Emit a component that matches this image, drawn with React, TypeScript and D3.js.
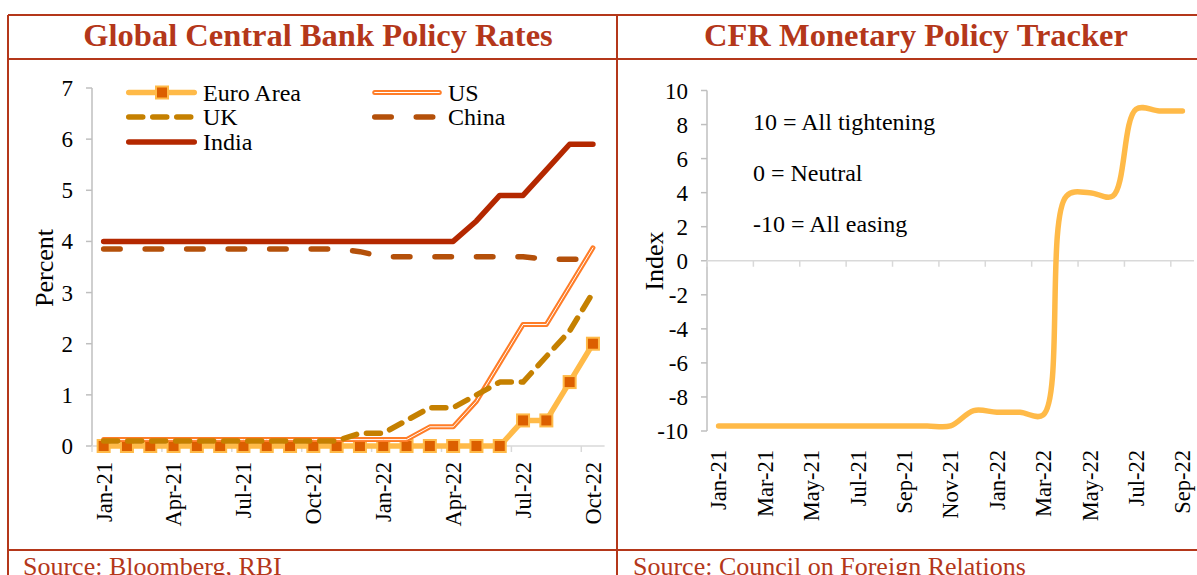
import { curveCatmullRom, line, scaleBand, scaleLinear } from 'd3'

const leftMonths = [
  'Jan-21', 'Feb-21', 'Mar-21', 'Apr-21', 'May-21', 'Jun-21', 'Jul-21', 'Aug-21',
  'Sep-21', 'Oct-21', 'Nov-21', 'Dec-21', 'Jan-22', 'Feb-22', 'Mar-22', 'Apr-22',
  'May-22', 'Jun-22', 'Jul-22', 'Aug-22', 'Sep-22', 'Oct-22',
]
const leftTickLabels = ['Jan-21', 'Apr-21', 'Jul-21', 'Oct-21', 'Jan-22', 'Apr-22', 'Jul-22', 'Oct-22']
const leftYTicks = [0, 1, 2, 3, 4, 5, 6, 7]

const euroArea = [0, 0, 0, 0, 0, 0, 0, 0, 0, 0, 0, 0, 0, 0, 0, 0, 0, 0, 0.5, 0.5, 1.25, 2.0]
const us = [
  0.125, 0.125, 0.125, 0.125, 0.125, 0.125, 0.125, 0.125, 0.125, 0.125, 0.125, 0.125,
  0.125, 0.125, 0.375, 0.375, 0.875, 1.625, 2.375, 2.375, 3.125, 3.875,
]
const uk = [
  0.1, 0.1, 0.1, 0.1, 0.1, 0.1, 0.1, 0.1, 0.1, 0.1, 0.1, 0.25,
  0.25, 0.5, 0.75, 0.75, 1.0, 1.25, 1.25, 1.75, 2.25, 3.0,
]
const china = [
  3.85, 3.85, 3.85, 3.85, 3.85, 3.85, 3.85, 3.85, 3.85, 3.85, 3.85, 3.8,
  3.7, 3.7, 3.7, 3.7, 3.7, 3.7, 3.7, 3.65, 3.65, 3.65,
]
const india = [
  4.0, 4.0, 4.0, 4.0, 4.0, 4.0, 4.0, 4.0, 4.0, 4.0, 4.0, 4.0,
  4.0, 4.0, 4.0, 4.0, 4.4, 4.9, 4.9, 5.4, 5.9, 5.9,
]

const rightMonths = [
  'Jan-21', 'Feb-21', 'Mar-21', 'Apr-21', 'May-21', 'Jun-21', 'Jul-21', 'Aug-21',
  'Sep-21', 'Oct-21', 'Nov-21', 'Dec-21', 'Jan-22', 'Feb-22', 'Mar-22', 'Apr-22',
  'May-22', 'Jun-22', 'Jul-22', 'Aug-22', 'Sep-22',
]
const rightTickLabels = [
  'Jan-21', 'Mar-21', 'May-21', 'Jul-21', 'Sep-21', 'Nov-21',
  'Jan-22', 'Mar-22', 'May-22', 'Jul-22', 'Sep-22',
]
const rightYTicks = [-10, -8, -6, -4, -2, 0, 2, 4, 6, 8, 10]
const trackerIndex = [
  -9.7, -9.7, -9.7, -9.7, -9.7, -9.7, -9.7, -9.7, -9.7, -9.7, -9.7,
  -8.8, -8.9, -8.9, -9.05, 3.8, 4.0, 3.8, 8.9, 8.8, 8.8,
]
const trackerNotes = ['10 = All tightening', '0 = Neutral', '-10 = All easing']

const red = '#B4371A'
const font = "'Liberation Serif', 'Times New Roman', serif"
const axisGray = '#BFBFBF'
const gridGray = '#D9D9D9'

const colors = {
  euro: '#FFBA48',
  euroMarker: '#DC5F00',
  us: '#FF7D28',
  uk: '#C58000',
  china: '#B4500A',
  india: '#B42800',
  tracker: '#FFBA48',
}

function PolicyRates() {
  const x = scaleBand().domain(leftMonths).range([92, 604.6])
  const y = scaleLinear().domain([0, 7]).range([446, 88])
  const cx = (i: number) => (x(leftMonths[i]) ?? 0) + x.bandwidth() / 2

  const rateLine = line<number>()
    .x((_, i) => cx(i))
    .y((v) => y(v))

  const lineStyle = {
    fill: 'none',
    strokeWidth: 5.5,
    strokeLinecap: 'round' as const,
    strokeLinejoin: 'round' as const,
  }

  return (
    <g>
      {leftYTicks.map((t) => (
        <g key={`ly-${t}`}>
          <line x1={86} x2={92} y1={y(t)} y2={y(t)} stroke={axisGray} strokeWidth={1.5} />
          <text x={73} y={y(t)} dy="0.35em" textAnchor="end" fontSize={23}>
            {t}
          </text>
        </g>
      ))}
      <line x1={92} x2={92} y1={y(7)} y2={y(0)} stroke={axisGray} strokeWidth={1.5} />
      <line x1={92} x2={604.6} y1={y(0)} y2={y(0)} stroke={gridGray} strokeWidth={1.5} />

      {leftTickLabels.map((m) => {
        const left = x(m) ?? 0
        const mid = left + x.bandwidth() / 2
        return (
          <g key={`lx-${m}`}>
            <line x1={left} x2={left} y1={y(0)} y2={y(0) + 6} stroke={gridGray} strokeWidth={1.5} />
            <text
              transform={`translate(${mid}, 462) rotate(-90)`}
              dy="0.35em"
              textAnchor="end"
              fontSize={22.5}
            >
              {m}
            </text>
          </g>
        )
      })}

      <text transform="translate(53, 268) rotate(-90)" textAnchor="middle" fontSize={26}>
        Percent
      </text>

      <path d={rateLine(euroArea) ?? ''} stroke={colors.euro} {...lineStyle} />
      {euroArea.map((v, i) => (
        <rect
          key={`eu-${i}`}
          x={cx(i) - 6}
          y={y(v) - 6}
          width={12}
          height={12}
          fill={colors.euroMarker}
          stroke={colors.euro}
          strokeWidth={2}
        />
      ))}
      <path d={rateLine(us) ?? ''} stroke={colors.us} {...lineStyle} strokeWidth={5} />
      <path d={rateLine(us) ?? ''} stroke="#FFFFFF" {...lineStyle} strokeWidth={1} />
      <path d={rateLine(uk) ?? ''} stroke={colors.uk} {...lineStyle} strokeDasharray="14 10" />
      <path d={rateLine(china) ?? ''} stroke={colors.china} {...lineStyle} strokeDasharray="16.5 25" />
      <path d={rateLine(india) ?? ''} stroke={colors.india} {...lineStyle} />

      {/* legend */}
      <g fontSize={24}>
        <line x1={128.75} x2={194.25} y1={92.5} y2={92.5} stroke={colors.euro} {...lineStyle} />
        <rect x={156} y={86.5} width={12} height={12} fill={colors.euroMarker} stroke={colors.euro} strokeWidth={2} />
        <text x={203} y={92.5} dy="0.35em">Euro Area</text>

        <line x1={374.75} x2={439.25} y1={92.5} y2={92.5} stroke={colors.us} {...lineStyle} strokeWidth={5} />
        <line x1={374.75} x2={439.25} y1={92.5} y2={92.5} stroke="#FFFFFF" {...lineStyle} strokeWidth={1} />
        <text x={448} y={92.5} dy="0.35em">US</text>

        <line x1={128.75} x2={194.25} y1={117} y2={117} stroke={colors.uk} {...lineStyle} strokeDasharray="14 10" />
        <text x={203} y={117} dy="0.35em">UK</text>

        <line x1={374.75} x2={439.25} y1={117} y2={117} stroke={colors.china} {...lineStyle} strokeDasharray="16.5 25" />
        <text x={448} y={117} dy="0.35em">China</text>

        <line x1={128.75} x2={194.25} y1={142} y2={142} stroke={colors.india} {...lineStyle} />
        <text x={203} y={142} dy="0.35em">India</text>
      </g>
    </g>
  )
}

function PolicyTracker() {
  const x = scaleBand().domain(rightMonths).range([707, 1194])
  const y = scaleLinear().domain([-10, 10]).range([431, 90.5])
  const cx = (i: number) => (x(rightMonths[i]) ?? 0) + x.bandwidth() / 2

  const trackerLine = line<number>()
    .x((_, i) => cx(i))
    .y((v) => y(v))
    .curve(curveCatmullRom.alpha(0.5))

  return (
    <g>
      {rightYTicks.map((t) => (
        <g key={`ry-${t}`}>
          <line x1={701} x2={707} y1={y(t)} y2={y(t)} stroke={axisGray} strokeWidth={1.5} />
          <text x={688} y={y(t)} dy="0.35em" textAnchor="end" fontSize={23}>
            {t}
          </text>
        </g>
      ))}
      <line x1={707} x2={707} y1={y(10)} y2={y(-10)} stroke={axisGray} strokeWidth={1.5} />
      <line x1={707} x2={1194} y1={y(0)} y2={y(0)} stroke={gridGray} strokeWidth={1.5} />

      {rightTickLabels.map((m) => {
        const left = x(m) ?? 0
        const mid = left + x.bandwidth() / 2
        return (
          <g key={`rx-${m}`}>
            <line x1={left} x2={left} y1={y(0)} y2={y(0) + 6} stroke={gridGray} strokeWidth={1.5} />
            <text
              transform={`translate(${mid}, 450) rotate(-90)`}
              dy="0.35em"
              textAnchor="end"
              fontSize={22.5}
            >
              {m}
            </text>
          </g>
        )
      })}

      <text transform="translate(663, 261) rotate(-90)" textAnchor="middle" fontSize={26}>
        Index
      </text>

      {trackerNotes.map((note, i) => (
        <text key={note} x={753} y={130 + i * 51} fontSize={24}>
          {note}
        </text>
      ))}

      <path
        d={trackerLine(trackerIndex) ?? ''}
        fill="none"
        stroke={colors.tracker}
        strokeWidth={5.5}
        strokeLinecap="round"
        strokeLinejoin="round"
      />
    </g>
  )
}

export default function App() {
  return (
    <svg
      width={1197}
      height={575}
      viewBox="0 0 1197 575"
      style={{ position: 'absolute', left: 0, top: 0, background: '#FFFFFF' }}
      fontFamily={font}
      fill="#000000"
    >
      <rect width={1197} height={575} fill="#FFFFFF" />

      {/* frame */}
      <g stroke={red} strokeWidth={2}>
        <line x1={8} x2={1197} y1={15} y2={15} />
        <line x1={8} x2={8} y1={15} y2={575} />
        <line x1={617} x2={617} y1={15} y2={575} />
        <line x1={8} x2={612} y1={59} y2={59} />
        <line x1={604} x2={1197} y1={59} y2={59} />
        <line x1={8} x2={1197} y1={550} y2={550} />
      </g>

      <text x={318} y={46} textAnchor="middle" fontSize={32.5} fontWeight="bold" fill={red}>
        Global Central Bank Policy Rates
      </text>
      <text x={916} y={46} textAnchor="middle" fontSize={32.5} fontWeight="bold" fill={red}>
        CFR Monetary Policy Tracker
      </text>

      <PolicyRates />
      <PolicyTracker />

      {/* source notes sit on the lower edge, cut off as in the original */}
      <text x={23} y={575} fontSize={26} fill={red}>
        Source: Bloomberg, RBI
      </text>
      <text x={633} y={575} fontSize={26} fill={red}>
        Source: Council on Foreign Relations
      </text>
    </svg>
  )
}
